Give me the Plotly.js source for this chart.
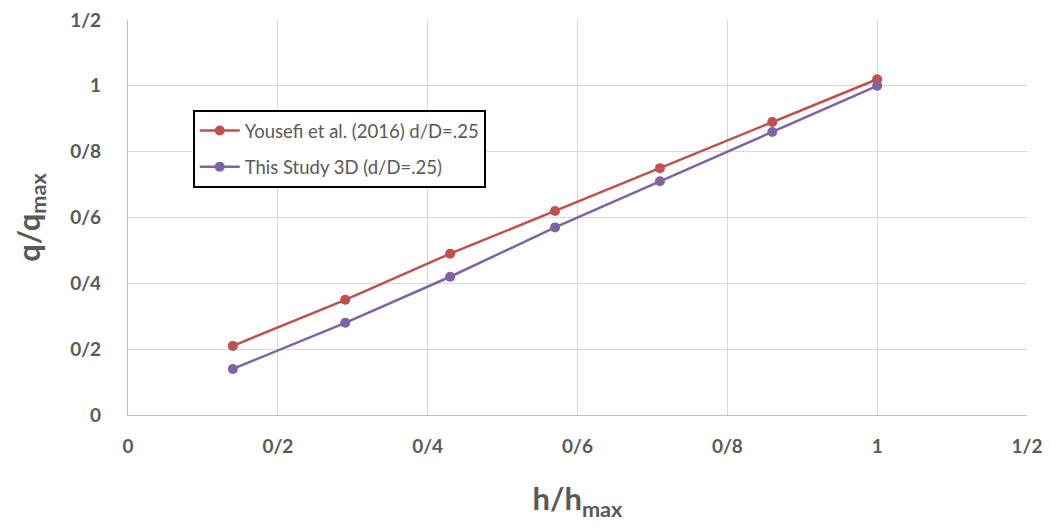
<!DOCTYPE html>
<html><head><meta charset="utf-8">
<script src="https://cdn.plot.ly/plotly-3.0.1.min.js"></script>
<style>html,body{margin:0;padding:0;background:#fff}</style>
</head><body>
<div id="chart" style="width:1051px;height:530px"></div>
<script>
const xVals = [0.14, 0.29, 0.43, 0.57, 0.71, 0.86, 1.0];
const yousefi = [0.21, 0.35, 0.49, 0.62, 0.75, 0.89, 1.02];
const thisStudy = [0.14, 0.28, 0.42, 0.57, 0.71, 0.86, 1.0];
const tickVals = [0, 0.2, 0.4, 0.6, 0.8, 1.0, 1.2];
const tickText = ['0', '0/2', '0/4', '0/6', '0/8', '1', '1/2'];
const seriesNames = ['Yousefi et al. (2016) d/D=.25', 'This Study 3D (d/D=.25)'];

const font = 'Lato, "Open Sans", sans-serif';
const traces = [
  {x: xVals, y: yousefi, name: seriesNames[0], legendgroup: 'a', mode: 'lines+markers', type: 'scatter',
   line: {color: '#c0504d', width: 2.5}, marker: {color: '#c0504d', size: 10}},
  {x: xVals, y: thisStudy, name: seriesNames[1], legendgroup: 'b', mode: 'lines+markers', type: 'scatter',
   line: {color: '#8064a2', width: 2.5}, marker: {color: '#8064a2', size: 10}}
];
const layout = {
  width: 1051, height: 530,
  margin: {l: 128, r: 24, t: 20, b: 115},
  paper_bgcolor: '#fff', plot_bgcolor: '#fff',
  showlegend: true,
  legend: {x: 0.072, y: 0.772, xanchor: 'left', yanchor: 'top', bordercolor: '#000', borderwidth: 2,
    bgcolor: '#fff', font: {family: font, size: 18.5, color: '#595959'}, tracegroupgap: 9,
    traceorder: 'grouped', itemwidth: 40},
  xaxis: {range: [0, 1.2], tickvals: tickVals, ticktext: tickText, showgrid: true, gridcolor: '#d9d9d9',
    gridwidth: 1.3, zeroline: false, showline: true, linecolor: '#bfbfbf', linewidth: 1.3, ticks: '',
    tickfont: {family: font, size: 19, color: '#595959', weight: 'bold'}, ticklabelstandoff: 14,
    title: {text: '<b>h/h<sub>max</sub></b>', font: {family: font, size: 31, color: '#595959'}, standoff: 32}},
  yaxis: {range: [0, 1.2], tickvals: tickVals, ticktext: tickText, showgrid: true, gridcolor: '#d9d9d9',
    gridwidth: 1.3, zeroline: false, showline: true, linecolor: '#bfbfbf', linewidth: 1.3, ticks: '',
    tickfont: {family: font, size: 19, color: '#595959', weight: 'bold'}, ticklabelstandoff: 22,
    title: {text: '<b>q/q<sub>max</sub></b>', font: {family: font, size: 31, color: '#595959'}, standoff: 20}}
};
Plotly.newPlot('chart', traces, layout, {displayModeBar: false});
</script>
</body></html>
